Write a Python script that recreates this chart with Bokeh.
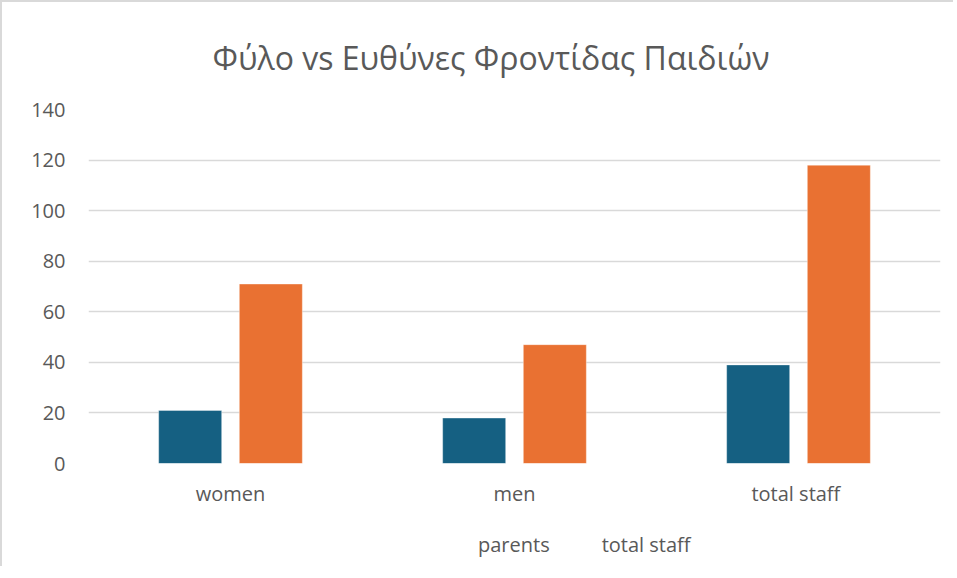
from bokeh.plotting import figure
from bokeh.layouts import column
from bokeh.models import ColumnDataSource, FactorRange, Range1d, Legend, LegendItem, SingleIntervalTicker
from bokeh.transform import dodge
from bokeh.embed import file_html
from bokeh.resources import INLINE

categories = ["women", "men", "total  staff"]
parents = [21, 18, 39]
total_staff = [71, 47, 118]
series_names = ["parents", "total staff"]
title_text = "Φύλο vs Ευθύνες Φροντίδας Παιδιών"

BLUE = "#156082"
ORANGE = "#E97132"
TEXT = "#595959"
GRID = "#D9D9D9"
FONT = "Open Sans"

source = ColumnDataSource(dict(cat=categories, parents=parents, total=total_staff))

# ---- main chart ----
p = figure(
    x_range=FactorRange(*categories, range_padding=0.0),
    y_range=Range1d(0, 140),
    width=953, height=516,
    output_backend="svg", toolbar_location=None,
    min_border_left=86, min_border_right=15, min_border_top=107, min_border_bottom=55,
    title=title_text,
)
p.styles = {"border-left": "2px solid #D9D9D9", "border-top": "2px solid #D9D9D9"}

p.vbar(x=dodge("cat", -0.142, range=p.x_range), top="parents", width=0.222,
       source=source, fill_color=BLUE, line_color="white", line_alpha=0.5, line_width=0.8)
p.vbar(x=dodge("cat", 0.142, range=p.x_range), top="total", width=0.222,
       source=source, fill_color=ORANGE, line_color="white", line_alpha=0.5, line_width=0.8)

p.title.align = "left"
p.title.offset = 124
p.title.standoff = 62
p.title.text_font = FONT
p.title.text_font_size = "32px"
p.title.text_font_style = "normal"
p.title.text_color = TEXT

p.outline_line_alpha = 0
p.xgrid.grid_line_alpha = 0
p.ygrid.grid_line_color = GRID
p.ygrid.grid_line_width = 1.5

p.yaxis.ticker = SingleIntervalTicker(interval=20, num_minor_ticks=0)
for ax in (p.xaxis, p.yaxis):
    ax.axis_line_alpha = 0
    ax.major_tick_line_alpha = 0
    ax.minor_tick_line_alpha = 0
    ax.major_tick_out = 0
    ax.minor_tick_out = 0
    ax.major_label_text_font = FONT
    ax.major_label_text_font_size = "20px"
    ax.major_label_text_color = TEXT
p.yaxis.major_label_standoff = 23
p.xaxis.major_label_standoff = 16

# ---- legend strip below the chart ----
lf = figure(
    width=953, height=50,
    output_backend="svg", toolbar_location=None,
    x_axis_location=None, y_axis_location=None,
    min_border=0,
)
lf.styles = {"border-left": "2px solid #D9D9D9"}
lf.outline_line_alpha = 0
lf.grid.visible = False
l1 = lf.vbar(x=[], top=[], width=0.5, fill_color=BLUE, line_color="white", line_alpha=0.5)
l2 = lf.vbar(x=[], top=[], width=0.5, fill_color=ORANGE, line_color="white", line_alpha=0.5)

legend = Legend(
    items=[LegendItem(label=series_names[0], renderers=[l1]),
           LegendItem(label=series_names[1], renderers=[l2])],
    orientation="horizontal", location=(370, 8),
    border_line_alpha=0, background_fill_alpha=0,
    label_text_font=FONT, label_text_font_size="20px", label_text_color=TEXT,
    glyph_width=14, glyph_height=14, label_standoff=6, spacing=32,
    label_height=20, padding=0, margin=0,
)
lf.add_layout(legend, "center")

layout = column(p, lf)
open("out.html", "w").write(file_html(layout, INLINE))
